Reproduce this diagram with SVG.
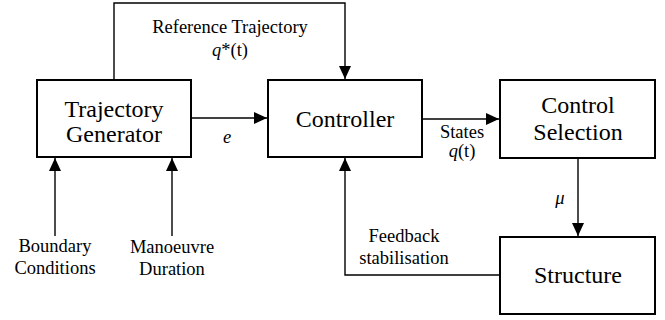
<svg xmlns="http://www.w3.org/2000/svg" width="665" height="320" viewBox="0 0 665 320">
  <style>
    .box { fill: #fff; stroke: #000; stroke-width: 2; }
    .wire { fill: none; stroke: #000; stroke-width: 1.4; }
    .t { font-family: 'Liberation Serif', serif !important; text-anchor: middle; fill: #000; }
    .s { font-size: 18.5px; }
    .L { font-size: 24px; }
  </style>
  <defs>
    <marker id="arr" viewBox="0 0 13 12" refX="13" refY="6" markerWidth="13" markerHeight="12" markerUnits="userSpaceOnUse" orient="auto">
      <path d="M0,0 L13,6 L0,12 Z" fill="#000"/>
    </marker>
  </defs>

  <g id="connectors">
    <path class="wire" d="M114,80 V3 H345 V79" marker-end="url(#arr)"/>
    <path class="wire" d="M191,118 H267" marker-end="url(#arr)"/>
    <path class="wire" d="M422,119 H499" marker-end="url(#arr)"/>
    <path class="wire" d="M578,158 V236" marker-end="url(#arr)"/>
    <path class="wire" d="M500,275 H345 V158" marker-end="url(#arr)"/>
    <path class="wire" d="M55,236 V158" marker-end="url(#arr)"/>
    <path class="wire" d="M172,236 V158" marker-end="url(#arr)"/>
  </g>

  <g id="labels">
    <text class="t s" style="font-family: 'Liberation Serif', serif !important" x="230" y="33">Reference Trajectory</text>
    <text class="t s" style="font-family: 'Liberation Serif', serif !important" x="230" y="56"><tspan font-style="italic">q</tspan>*(t)</text>
    <text class="t s" style="font-family: 'Liberation Serif', serif !important; font-style: italic" x="227" y="143">e</text>
    <text class="t s" style="font-family: 'Liberation Serif', serif !important" x="462" y="138">States</text>
    <text class="t s" style="font-family: 'Liberation Serif', serif !important" x="462" y="157"><tspan font-style="italic">q</tspan>(t)</text>
    <text class="t s" style="font-family: 'Liberation Serif', serif !important; font-style: italic" x="560" y="204">μ</text>
    <text class="t s" style="font-family: 'Liberation Serif', serif !important" x="404" y="242">Feedback</text>
    <text class="t s" style="font-family: 'Liberation Serif', serif !important" x="404" y="264">stabilisation</text>
    <text class="t s" style="font-family: 'Liberation Serif', serif !important" x="55" y="252">Boundary</text>
    <text class="t s" style="font-family: 'Liberation Serif', serif !important" x="55" y="274">Conditions</text>
    <text class="t s" style="font-family: 'Liberation Serif', serif !important" x="172" y="253">Manoeuvre</text>
    <text class="t s" style="font-family: 'Liberation Serif', serif !important" x="172" y="275">Duration</text>
  </g>

  <g id="trajectory-generator">
    <rect class="box" x="37" y="80" width="154" height="77"/>
    <text class="t L" style="font-family: 'Liberation Serif', serif !important" x="114" y="117">Trajectory</text>
    <text class="t L" style="font-family: 'Liberation Serif', serif !important" x="114" y="142">Generator</text>
  </g>
  <g id="controller">
    <rect class="box" x="268" y="80" width="154" height="77"/>
    <text class="t L" style="font-family: 'Liberation Serif', serif !important" x="345" y="127">Controller</text>
  </g>
  <g id="control-selection">
    <rect class="box" x="500" y="80" width="155" height="78"/>
    <text class="t L" style="font-family: 'Liberation Serif', serif !important" x="578" y="113">Control</text>
    <text class="t L" style="font-family: 'Liberation Serif', serif !important" x="578" y="140">Selection</text>
  </g>
  <g id="structure">
    <rect class="box" x="500" y="237" width="155" height="77"/>
    <text class="t L" style="font-family: 'Liberation Serif', serif !important" x="578" y="283">Structure</text>
  </g>
</svg>
